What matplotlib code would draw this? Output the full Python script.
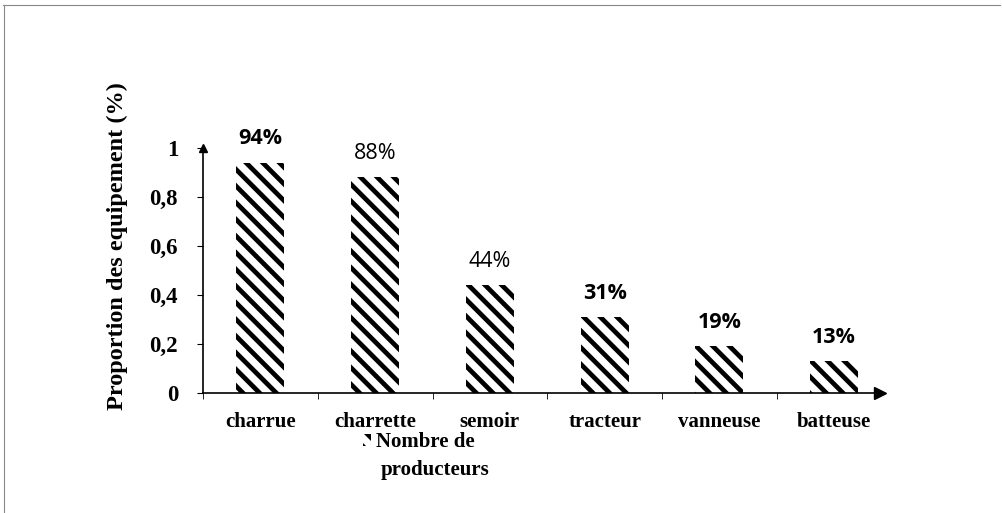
import matplotlib
matplotlib.use("Agg")
import matplotlib.pyplot as plt
from matplotlib.lines import Line2D
from matplotlib.patches import Rectangle

# données
equipements = ["charrue", "charrette", "semoir", "tracteur", "vanneuse", "batteuse"]
proportions = [0.94, 0.88, 0.44, 0.31, 0.19, 0.13]
etiquettes = ["94%", "88%", "44%", "31%", "19%", "13%"]
gras = [True, False, False, True, True, True]
yticks = [0, 0.2, 0.4, 0.6, 0.8, 1]
yticklabels = ["0", "0,2", "0,4", "0,6", "0,8", "1"]

plt.rcParams["hatch.linewidth"] = 3.4
serif = "Liberation Serif"
motif = "\\\\"

fig = plt.figure(figsize=(10.02, 5.13), dpi=100)
ax = fig.add_axes([0.2026, 0.2339, 0.6757, 0.4776])

x = list(range(len(equipements)))
ax.bar(x, proportions, width=0.42, color="white", edgecolor="black",
       linewidth=0, hatch=motif)

for xi, v, txt, b in zip(x, proportions, etiquettes, gras):
    ax.text(xi, v + 0.055, txt, ha="center", va="bottom", fontsize=15.5,
            family="Open Sans", fontweight="bold" if b else "normal", clip_on=False)

ax.set_xlim(-0.45, 5.4)
ax.set_ylim(0, 1)

for s in ["top", "right"]:
    ax.spines[s].set_visible(False)
ax.spines["left"].set_linewidth(1.2)
ax.spines["bottom"].set_linewidth(1.2)

# flèches au bout des axes
ax.plot(1, 0, ">k", markersize=8, transform=ax.transAxes, clip_on=False)
ax.plot(0, 1, "^k", markersize=6, transform=ax.transAxes, clip_on=False)

ax.set_xticks(x)
ax.set_xticklabels(equipements, fontsize=15, family=serif, fontweight="bold")
ax.tick_params(axis="x", length=0, pad=14)
ax.set_xticks([i + 0.5 for i in range(-1, 5)], minor=True)
ax.tick_params(axis="x", which="minor", length=4, direction="out")

ax.set_yticks(yticks)
ax.set_yticklabels(yticklabels, fontsize=16.5, family=serif, fontweight="bold")
ax.tick_params(axis="y", length=4, direction="out", pad=14)

ax.set_ylabel("Proportion des equipement (%)", fontsize=17.5, family=serif,
              fontweight="bold")
ax.yaxis.set_label_coords(-0.111, 0.6)

# légende : petit motif hachuré + "Nombre de / producteurs"
leg = fig.legend(handles=[Rectangle((0, 0), 1, 1, facecolor="white", edgecolor="black",
                                    linewidth=0, hatch=motif)],
                 labels=["Nombre de"], loc="center left",
                 bbox_to_anchor=(0.352, 0.138), frameon=False, borderpad=0,
                 handlelength=0.4, handleheight=0.5, handletextpad=0.2,
                 prop={"family": serif, "weight": "bold", "size": 15})
fig.text(0.434, 0.083, "producteurs", ha="center", va="center", fontsize=15,
         family=serif, fontweight="bold")

# cadre du scan
fig.add_artist(Line2D([0.003, 0.998], [0.99, 0.99], color="#888888", lw=0.8,
                      transform=fig.transFigure))
fig.add_artist(Line2D([0.004, 0.004], [0.0, 0.99], color="#888888", lw=0.8,
                      transform=fig.transFigure))

fig.savefig("out.png", dpi=100)
